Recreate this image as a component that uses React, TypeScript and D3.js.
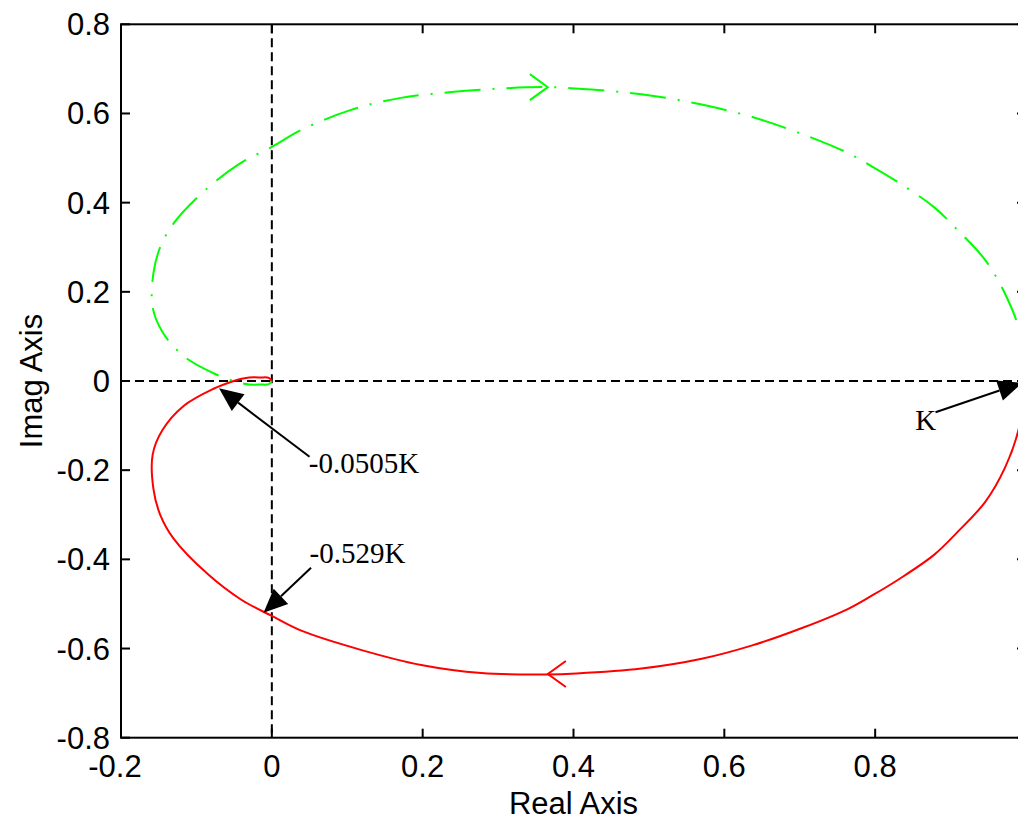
import React from "react";
import * as d3 from "d3";

// ---- data ----
const xTicks = [-0.2, 0, 0.2, 0.4, 0.6, 0.8];
const xTickLabels = ["-0.2", "0", "0.2", "0.4", "0.6", "0.8"];
const yTicks = [-0.8, -0.6, -0.4, -0.2, 0, 0.2, 0.4, 0.6, 0.8];
const yTickLabels = ["-0.8", "-0.6", "-0.4", "-0.2", "0", "0.2", "0.4", "0.6", "0.8"];

// positive-frequency branch (red, lower half)
const redReal = [1.0, 0.995, 0.99, 0.972, 0.946, 0.909, 0.878, 0.832, 0.796, 0.763, 0.703, 0.637, 0.57, 0.49, 0.404, 0.364, 0.278, 0.198, 0.118, 0.039, 0, -0.041, -0.085, -0.13, -0.148, -0.157, -0.158, -0.145, -0.117, -0.078, -0.0505, -0.04, -0.03, -0.015, -0.004, 0];
const redImag = [0, -0.05, -0.11, -0.195, -0.271, -0.339, -0.39, -0.444, -0.481, -0.512, -0.554, -0.593, -0.623, -0.645, -0.656, -0.658, -0.655, -0.637, -0.603, -0.56, -0.527, -0.49, -0.433, -0.354, -0.3, -0.242, -0.165, -0.11, -0.056, -0.018, 0, 0.005, 0.008, 0.008, 0.007, 0];

// negative-frequency branch (green, upper half)
const greenReal = [1.0, 0.995, 0.991, 0.973, 0.946, 0.909, 0.878, 0.832, 0.796, 0.763, 0.703, 0.637, 0.57, 0.504, 0.437, 0.367, 0.304, 0.238, 0.171, 0.105, 0.039, 0, -0.041, -0.085, -0.13, -0.148, -0.157, -0.158, -0.145, -0.117, -0.078, -0.0505, -0.04, -0.03, -0.015, -0.004, 0];
const greenImag = [0, 0.05, 0.114, 0.193, 0.271, 0.339, 0.39, 0.444, 0.481, 0.512, 0.554, 0.592, 0.62, 0.64, 0.652, 0.659, 0.656, 0.648, 0.635, 0.608, 0.563, 0.525, 0.489, 0.433, 0.354, 0.3, 0.242, 0.165, 0.11, 0.056, 0.018, 0, -0.005, -0.008, -0.008, -0.007, 0];

// direction chevrons on the curves
const chevrons = [
  { x: 0.366, y: 0.659, dir: 1, color: "#00ff00" },
  { x: 0.366, y: -0.657, dir: -1, color: "#ff0000" },
];

// annotations: label, label position, arrow tail, arrow tip (data units)
const annLabels = ["K", "-0.0505K", "-0.529K"];
const annTextX = [0.853, 0.049, 0.05];
const annTextY = [-0.11, -0.206, -0.408];
const annTailX = [0.88, 0.05, 0.052];
const annTailY = [-0.07, -0.17, -0.419];
const annTipX = [0.995, -0.07, -0.011];
const annTipY = [-0.004, -0.016, -0.52];

const W = 1018;
const H = 821;
const left = 121;
const right = 1026;
const top = 24.3;
const bottom = 737.7;

export default function App() {
  const x = d3.scaleLinear().domain([-0.2, 1.0]).range([left, right]);
  const y = d3.scaleLinear().domain([-0.8, 0.8]).range([bottom, top]);

  const line = d3
    .line<[number, number]>()
    .x((d) => x(d[0]))
    .y((d) => y(d[1]))
    .curve(d3.curveCatmullRom.alpha(0.5));

  const redPts: [number, number][] = redReal.map((v, i) => [v, redImag[i]]);
  const greenPts: [number, number][] = greenReal.map((v, i) => [v, greenImag[i]]);

  const tickFont = "'Liberation Sans', Arial, sans-serif";
  const serif = "'Liberation Serif', 'Times New Roman', serif";
  const tickLen = 9;

  const arrowHead = (tx: number, ty: number, sx: number, sy: number) => {
    const dx = tx - sx;
    const dy = ty - sy;
    const len = Math.sqrt(dx * dx + dy * dy);
    const ux = dx / len;
    const uy = dy / len;
    const hl = 24;
    const hw = 10.5;
    const bx = tx - ux * hl;
    const by = ty - uy * hl;
    return {
      head: `M${tx},${ty}L${bx - uy * hw},${by + ux * hw}L${bx + uy * hw},${by - ux * hw}Z`,
      bx,
      by,
    };
  };

  return (
    <svg
      width={W}
      height={H}
      style={{ position: "absolute", left: 0, top: 0, background: "#fff" }}
    >
      <rect x={0} y={0} width={W} height={H} fill="#fff" />
      <defs>
        <clipPath id="plotclip">
          <rect x={left} y={top} width={right - left} height={bottom - top} />
        </clipPath>
      </defs>

      {/* zero lines */}
      <line x1={left} x2={right} y1={y(0)} y2={y(0)} stroke="#000" strokeWidth={2} strokeDasharray="9,5" />
      <line x1={x(0)} x2={x(0)} y1={top} y2={bottom} stroke="#000" strokeWidth={2} strokeDasharray="9,5" />

      {/* curves */}
      <g clipPath="url(#plotclip)">
        <path d={line(greenPts) || ""} fill="none" stroke="#00ff00" strokeWidth={2} strokeDasharray="36,12,2,12" />
        <path d={line(redPts) || ""} fill="none" stroke="#ff0000" strokeWidth={2} />
        {chevrons.map((c, i) => {
          const cx = x(c.x);
          const cy = y(c.y);
          const back = 18 * c.dir;
          return (
            <path
              key={i}
              d={`M${cx - back},${cy - 13}L${cx},${cy}L${cx - back},${cy + 13}`}
              fill="none"
              stroke={c.color}
              strokeWidth={2}
            />
          );
        })}
      </g>

      {/* axes box */}
      <rect x={left} y={top} width={right - left} height={bottom - top} fill="none" stroke="#000" strokeWidth={2} />

      {/* x ticks */}
      {xTicks.map((t, i) => (
        <g key={"xt" + i}>
          <line x1={x(t)} x2={x(t)} y1={bottom} y2={bottom - tickLen} stroke="#000" strokeWidth={2} />
          <line x1={x(t)} x2={x(t)} y1={top} y2={top + tickLen} stroke="#000" strokeWidth={2} />
          <text
            x={x(t) - (xTickLabels[i].startsWith("-") ? 6 : 0)}
            y={bottom + 39}
            textAnchor="middle"
            fontFamily={tickFont}
            fontSize={31}
            fill="#000"
          >
            {xTickLabels[i]}
          </text>
        </g>
      ))}

      {/* y ticks */}
      {yTicks.map((t, i) => (
        <g key={"yt" + i}>
          <line x1={left} x2={left + tickLen} y1={y(t)} y2={y(t)} stroke="#000" strokeWidth={2} />
          <line x1={right} x2={right - tickLen} y1={y(t)} y2={y(t)} stroke="#000" strokeWidth={2} />
          <text
            x={110}
            y={y(t) + 11}
            textAnchor="end"
            fontFamily={tickFont}
            fontSize={31}
            fill="#000"
          >
            {yTickLabels[i]}
          </text>
        </g>
      ))}

      {/* axis labels */}
      <text x={(left + right) / 2} y={814} textAnchor="middle" fontFamily={tickFont} fontSize={31} fill="#000">
        Real Axis
      </text>
      <text
        transform={`translate(42,${(top + bottom) / 2}) rotate(-90)`}
        textAnchor="middle"
        fontFamily={tickFont}
        fontSize={31}
        fill="#000"
      >
        Imag Axis
      </text>

      {/* annotations */}
      {annLabels.map((lab, i) => {
        const tx = x(annTipX[i]);
        const ty = y(annTipY[i]);
        const sx = x(annTailX[i]);
        const sy = y(annTailY[i]);
        const a = arrowHead(tx, ty, sx, sy);
        return (
          <g key={"ann" + i}>
            <line x1={sx} y1={sy} x2={a.bx} y2={a.by} stroke="#000" strokeWidth={2} />
            <path d={a.head} fill="#000" />
            <text x={x(annTextX[i])} y={y(annTextY[i])} fontFamily={serif} fontSize={29} fill="#000">
              {lab}
            </text>
          </g>
        );
      })}
    </svg>
  );
}
